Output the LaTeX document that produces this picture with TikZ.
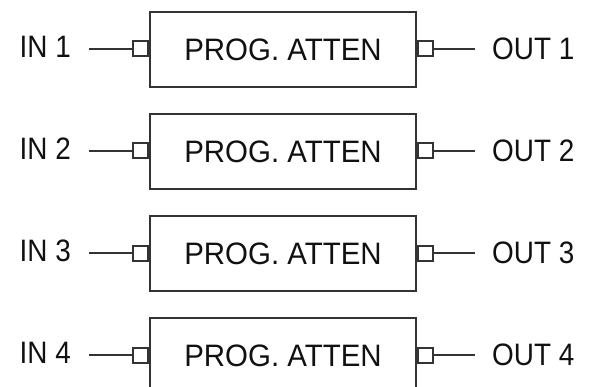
\documentclass[tikz,border=0pt]{standalone}
\usepackage{fontspec}
\setmainfont[FakeStretch=0.9]{Liberation Sans}
\newfontfamily\boxfont[FakeStretch=0.95]{Liberation Sans}
\definecolor{linegray}{HTML}{333333}
\definecolor{ink}{HTML}{111111}
\begin{document}
\begin{tikzpicture}[x=1pt,y=-1pt,
  wire/.style={draw=linegray, line width=2pt},
  attbox/.style={draw=linegray, line width=2.3pt, minimum width=266pt,
    minimum height=75pt, inner sep=0pt, text=ink,
    font=\boxfont\fontsize{31}{31}\selectfont},
  port/.style={draw=linegray, line width=2pt, minimum width=15pt,
    minimum height=15pt, inner sep=0pt},
  lbl/.style={inner sep=0pt, text=ink, font=\fontsize{31}{31}\selectfont}]
\useasboundingbox (0,0) rectangle (596,387);
\clip (0,0) rectangle (596,387);
\foreach \i/\y in {1/49,2/151,3/253,4/355} {
  % attenuator block with its two ports
  \node[attbox] (box\i) at (283,\y+0.5) {PROG.\ ATTEN};
  \node[port, anchor=east] (pin\i) at (box\i.west |- 0,\y) {};
  \node[port, anchor=west] (pout\i) at (box\i.east |- 0,\y) {};
  % channel labels
  \node[lbl, anchor=base east] (in\i) at (71,\y+8.5) {IN \i};
  \node[lbl, anchor=base west] (out\i) at (492,\y+10.5) {OUT \i};
  % free wire ends
  \coordinate (win\i) at (89,\y);
  \coordinate (wout\i) at (475,\y);
  \draw[wire] (win\i) -- (pin\i.west);
  \draw[wire] (pout\i.east) -- (wout\i);
}
\end{tikzpicture}
\end{document}
